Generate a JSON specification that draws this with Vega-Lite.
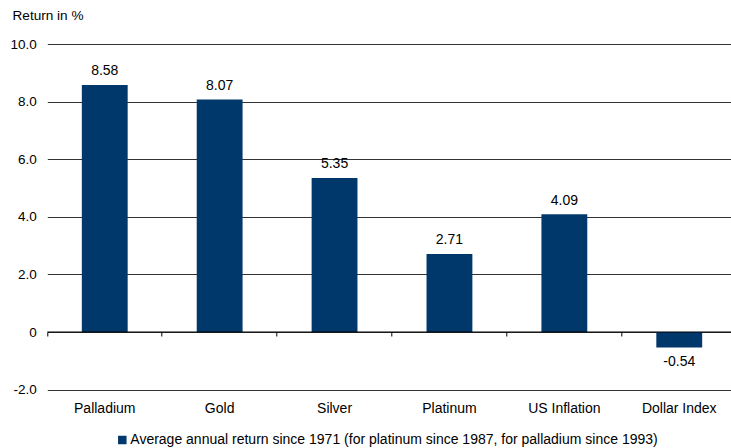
{
  "$schema": "https://vega.github.io/schema/vega-lite/v6.json",
  "width": 683.7,
  "height": 345.6,
  "autosize": {"type": "none"},
  "padding": {"left": 47.3, "top": 44, "right": 0, "bottom": 58.4},
  "background": "white",
  "config": {
    "view": {"stroke": null},
    "font": "Liberation Sans",
    "axis": {"labelFont": "Liberation Sans", "titleFont": "Liberation Sans", "labelColor": "#000", "titleColor": "#000"},
    "legend": {"labelFont": "Liberation Sans"}
  },
  "data": {
    "values": [
      {"asset": "Palladium", "ret": 8.58, "label": "8.58", "series": "Average annual return since 1971 (for platinum since 1987, for palladium since 1993)"},
      {"asset": "Gold", "ret": 8.07, "label": "8.07", "series": "Average annual return since 1971 (for platinum since 1987, for palladium since 1993)"},
      {"asset": "Silver", "ret": 5.35, "label": "5.35", "series": "Average annual return since 1971 (for platinum since 1987, for palladium since 1993)"},
      {"asset": "Platinum", "ret": 2.71, "label": "2.71", "series": "Average annual return since 1971 (for platinum since 1987, for palladium since 1993)"},
      {"asset": "US Inflation", "ret": 4.09, "label": "4.09", "series": "Average annual return since 1971 (for platinum since 1987, for palladium since 1993)"},
      {"asset": "Dollar Index", "ret": -0.54, "label": "-0.54", "series": "Average annual return since 1971 (for platinum since 1987, for palladium since 1993)"}
    ]
  },
  "resolve": {"axis": {"x": "independent"}},
  "layer": [
    {
      "mark": {"type": "bar"},
      "encoding": {
        "x": {
          "field": "asset", "type": "nominal", "sort": null,
          "scale": {"paddingInner": 0.601, "paddingOuter": 0.3005, "range": [0, 689.4]},
          "axis": {"orient": "bottom", "title": null, "domain": false, "ticks": false, "labelAngle": 0, "labelFontSize": 14, "labelPadding": 12, "grid": false}
        },
        "y": {
          "field": "ret", "type": "quantitative",
          "scale": {"domain": [-2, 10], "nice": false, "zero": false},
          "axis": {
            "values": [-2, 0, 2, 4, 6, 8, 10],
            "labelExpr": "datum.value == 0 ? '0' : replace(format(datum.value, '.1f'), '\u2212', '-')",
            "domain": false, "ticks": false, "labelPadding": 11, "labelFontSize": 13.5,
            "grid": true, "gridColor": "#333", "gridWidth": 1, "gridOpacity": 1,
            "title": "Return in %", "titleAngle": 0, "titleAlign": "left", "titleBaseline": "middle",
            "titleX": -35.3, "titleY": -29, "titleFontSize": 13.6, "titleFontWeight": "normal"
          }
        },
        "color": {
          "field": "series", "type": "nominal",
          "scale": {"range": ["#00386b"]},
          "legend": {
            "title": null, "orient": "none", "legendX": 68, "legendY": 389,
            "symbolType": "square", "symbolSize": 72, "symbolStrokeWidth": 0, "symbolOpacity": 1,
            "labelFontSize": 14, "labelOffset": 1, "labelLimit": 700, "labelColor": "#000"
          }
        }
      }
    },
    {
      "mark": {"type": "text", "fontSize": 14, "color": "#000", "baseline": "alphabetic", "dy": -9.5},
      "transform": [{"filter": "datum.ret >= 0"}],
      "encoding": {
        "x": {"field": "asset", "type": "nominal", "sort": null, "axis": null},
        "y": {"field": "ret", "type": "quantitative"},
        "text": {"field": "label", "type": "nominal"}
      }
    },
    {
      "mark": {"type": "text", "fontSize": 14, "color": "#000", "baseline": "alphabetic", "dy": 18.5},
      "transform": [{"filter": "datum.ret < 0"}],
      "encoding": {
        "x": {"field": "asset", "type": "nominal", "sort": null, "axis": null},
        "y": {"field": "ret", "type": "quantitative"},
        "text": {"field": "label", "type": "nominal"}
      }
    },
    {
      "mark": {"type": "text", "text": ""},
      "encoding": {
        "x": {
          "field": "asset", "type": "nominal", "sort": null,
          "axis": {"orient": "bottom", "offset": -57.6, "title": null, "labels": false, "domain": false, "ticks": true, "bandPosition": -0.753, "tickSize": 4, "tickColor": "#000", "grid": false}
        }
      }
    },
    {
      "data": {"values": [{"z": 0}]},
      "mark": {"type": "rule", "color": "#000", "strokeWidth": 1},
      "encoding": {
        "y": {"field": "z", "type": "quantitative"}
      }
    }
  ]
}
